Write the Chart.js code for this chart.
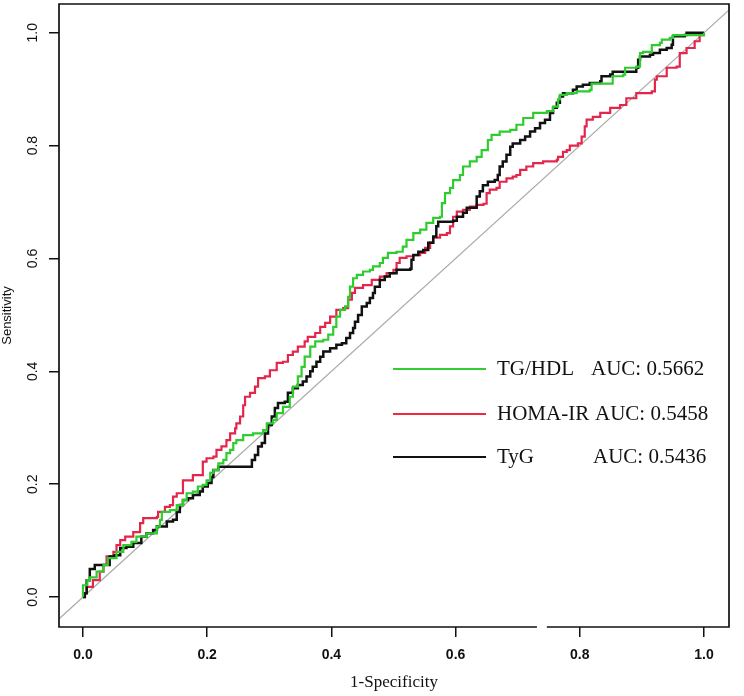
<!DOCTYPE html>
<html><head><meta charset="utf-8">
<script src="https://cdn.jsdelivr.net/npm/chart.js@4.4.0/dist/chart.umd.min.js"></script>
<style>html,body{margin:0;padding:0;background:#fff}canvas{display:block}</style>
</head><body>
<canvas id="c" width="744" height="696" style="width:744px;height:696px"></canvas>
<script>
// ---- data ----
const xTicks = [0, 0.2, 0.4, 0.6, 0.8, 1.0];
const xTickLabels = ['0.0', '0.2', '0.4', '0.6', '0.8', '1.0'];
const yTicks = [0, 0.2, 0.4, 0.6, 0.8, 1.0];
const yTickLabels = ['0.0', '0.2', '0.4', '0.6', '0.8', '1.0'];
const seriesNames = ['TG/HDL', 'HOMA-IR', 'TyG'];
const aucLabels = ['AUC: 0.5662', 'AUC: 0.5458', 'AUC: 0.5436'];
const xTitle = '1-Specificity';
const yTitle = 'Sensitivity';

const tgX = [0,0,0.007,0.011,0.022,0.033,0.04,0.054,0.065,0.078,0.086,0.102,0.119,0.124,0.127,0.14,0.151,0.161,0.167,0.177,0.185,0.193,0.199,0.205,0.21,0.218,0.226,0.231,0.237,0.242,0.247,0.258,0.274,0.29,0.296,0.306,0.312,0.322,0.333,0.338,0.346,0.352,0.357,0.366,0.374,0.387,0.395,0.403,0.408,0.414,0.422,0.427,0.43,0.435,0.441,0.451,0.462,0.467,0.478,0.483,0.491,0.505,0.515,0.521,0.532,0.543,0.553,0.564,0.575,0.578,0.583,0.591,0.596,0.607,0.612,0.623,0.634,0.642,0.652,0.658,0.671,0.688,0.698,0.709,0.725,0.747,0.757,0.765,0.768,0.779,0.795,0.816,0.819,0.851,0.853,0.87,0.873,0.891,0.897,0.902,0.916,0.929,0.932,0.945,0.95,0.985,1];
const tgY = [0,0.021,0.03,0.035,0.045,0.057,0.069,0.08,0.092,0.098,0.107,0.113,0.125,0.137,0.151,0.154,0.163,0.172,0.184,0.187,0.196,0.199,0.207,0.22,0.225,0.237,0.243,0.255,0.261,0.273,0.278,0.287,0.29,0.296,0.308,0.314,0.326,0.337,0.355,0.373,0.391,0.408,0.426,0.444,0.453,0.456,0.465,0.479,0.497,0.509,0.515,0.532,0.55,0.565,0.571,0.577,0.58,0.586,0.592,0.601,0.61,0.612,0.621,0.633,0.645,0.651,0.663,0.672,0.674,0.698,0.716,0.725,0.739,0.748,0.763,0.772,0.78,0.792,0.81,0.819,0.825,0.828,0.837,0.849,0.858,0.861,0.869,0.882,0.89,0.893,0.896,0.899,0.91,0.91,0.923,0.926,0.938,0.94,0.964,0.966,0.978,0.982,0.988,0.991,0.996,0.996,1];

const homaX = [0,0.003,0.006,0.016,0.027,0.033,0.038,0.049,0.054,0.06,0.068,0.081,0.092,0.097,0.119,0.121,0.132,0.14,0.145,0.151,0.161,0.169,0.177,0.188,0.193,0.199,0.21,0.215,0.223,0.231,0.237,0.245,0.247,0.253,0.258,0.261,0.269,0.277,0.282,0.293,0.301,0.312,0.322,0.33,0.338,0.346,0.357,0.362,0.374,0.382,0.39,0.398,0.408,0.419,0.427,0.433,0.438,0.451,0.465,0.478,0.489,0.5,0.505,0.51,0.521,0.532,0.543,0.551,0.559,0.564,0.575,0.586,0.591,0.596,0.602,0.612,0.623,0.634,0.645,0.65,0.655,0.666,0.671,0.682,0.692,0.698,0.704,0.714,0.725,0.741,0.763,0.765,0.773,0.779,0.784,0.797,0.803,0.808,0.811,0.821,0.833,0.849,0.865,0.875,0.891,0.916,0.921,0.924,0.94,0.956,0.961,0.972,0.982,0.985,0.993,1];
const homaY = [0,0.007,0.018,0.03,0.045,0.057,0.072,0.08,0.092,0.101,0.107,0.115,0.131,0.14,0.142,0.151,0.16,0.163,0.178,0.184,0.207,0.207,0.216,0.216,0.24,0.246,0.249,0.261,0.267,0.278,0.29,0.299,0.308,0.32,0.34,0.355,0.362,0.373,0.388,0.391,0.402,0.415,0.417,0.429,0.435,0.444,0.453,0.461,0.468,0.479,0.486,0.497,0.509,0.512,0.527,0.539,0.548,0.553,0.562,0.568,0.574,0.58,0.592,0.601,0.604,0.606,0.61,0.619,0.628,0.637,0.642,0.645,0.657,0.674,0.683,0.686,0.692,0.695,0.697,0.716,0.722,0.725,0.736,0.742,0.745,0.748,0.757,0.763,0.769,0.772,0.775,0.78,0.789,0.792,0.8,0.804,0.816,0.834,0.846,0.851,0.858,0.867,0.872,0.884,0.893,0.896,0.917,0.923,0.938,0.94,0.964,0.973,0.973,0.985,0.996,1];

const tygX = [0,0.003,0.006,0.011,0.019,0.027,0.043,0.051,0.06,0.07,0.081,0.089,0.094,0.102,0.113,0.119,0.129,0.135,0.145,0.151,0.156,0.161,0.169,0.177,0.188,0.193,0.201,0.207,0.21,0.218,0.269,0.272,0.277,0.282,0.288,0.293,0.298,0.304,0.309,0.314,0.325,0.33,0.338,0.346,0.354,0.36,0.366,0.37,0.376,0.382,0.387,0.398,0.408,0.417,0.424,0.43,0.435,0.438,0.443,0.449,0.457,0.462,0.467,0.47,0.478,0.486,0.494,0.505,0.527,0.529,0.532,0.54,0.548,0.556,0.564,0.569,0.572,0.596,0.602,0.612,0.618,0.628,0.634,0.639,0.644,0.652,0.663,0.668,0.671,0.676,0.682,0.688,0.692,0.704,0.712,0.72,0.728,0.736,0.744,0.752,0.757,0.763,0.768,0.773,0.789,0.795,0.805,0.816,0.833,0.835,0.849,0.853,0.867,0.891,0.894,0.897,0.913,0.918,0.929,0.94,0.948,0.95,0.969,0.972,1];
const tygY = [0,0.007,0.03,0.05,0.057,0.057,0.072,0.074,0.087,0.089,0.096,0.096,0.107,0.113,0.119,0.125,0.125,0.134,0.137,0.151,0.163,0.172,0.175,0.181,0.187,0.196,0.202,0.213,0.225,0.231,0.231,0.243,0.252,0.267,0.273,0.29,0.305,0.32,0.335,0.344,0.346,0.362,0.37,0.376,0.382,0.391,0.4,0.408,0.417,0.426,0.435,0.441,0.447,0.45,0.459,0.468,0.477,0.488,0.5,0.515,0.521,0.53,0.539,0.55,0.562,0.568,0.574,0.58,0.582,0.598,0.606,0.612,0.615,0.628,0.639,0.657,0.665,0.667,0.674,0.681,0.69,0.69,0.71,0.719,0.73,0.736,0.739,0.748,0.763,0.772,0.784,0.798,0.804,0.81,0.816,0.825,0.831,0.84,0.846,0.858,0.867,0.876,0.887,0.893,0.899,0.905,0.908,0.911,0.914,0.923,0.926,0.931,0.931,0.938,0.952,0.958,0.961,0.964,0.97,0.973,0.979,0.994,0.996,1,1];

const refX = [-0.1, 1.1];
const refY = [-0.1, 1.1];

// ---- chart ----
const zip = (xs, ys) => xs.map((x, i) => ({x: x, y: ys[i]}));
const colors = ['#2fcc2f', '#e3264b', '#111111'];
const legendColors = ['#33cc33', '#f02a3c', '#111111'];

const framePlugin = {
  id: 'frame',
  afterDraw(chart) {
    const ctx = chart.ctx, a = chart.chartArea, xs = chart.scales.x;
    const g0 = xs.getPixelForValue(0.731), g1 = xs.getPixelForValue(0.747);
    ctx.save();
    ctx.strokeStyle = '#111';
    ctx.lineWidth = 1.7;
    ctx.beginPath();
    ctx.moveTo(g0, a.bottom);
    ctx.lineTo(a.left, a.bottom);
    ctx.lineTo(a.left, a.top);
    ctx.lineTo(a.right, a.top);
    ctx.lineTo(a.right, a.bottom);
    ctx.lineTo(g1, a.bottom);
    ctx.stroke();
    // legend
    const rowsY = [369, 414, 457];
    const aucX = [591, 595, 593];
    ctx.font = '21px "Liberation Serif", "Times New Roman", serif';
    ctx.textBaseline = 'middle';
    ctx.textAlign = 'left';
    for (let i = 0; i < seriesNames.length; i++) {
      ctx.strokeStyle = legendColors[i];
      ctx.lineWidth = 2;
      ctx.beginPath();
      ctx.moveTo(393, rowsY[i]);
      ctx.lineTo(486, rowsY[i]);
      ctx.stroke();
      ctx.fillStyle = '#111';
      ctx.fillText(seriesNames[i], 497, rowsY[i]);
      ctx.fillText(aucLabels[i], aucX[i], rowsY[i]);
    }
    ctx.restore();
  }
};

new Chart(document.getElementById('c'), {
  type: 'line',
  data: {
    datasets: [
      {label: 'ref', data: zip(refX, refY), borderColor: '#a9a9a9', borderWidth: 1.2, pointRadius: 0, order: 10},
      {label: seriesNames[1], data: zip(homaX, homaY), borderColor: colors[1], borderWidth: 2.2, pointRadius: 0, stepped: true, order: 3},
      {label: seriesNames[2], data: zip(tygX, tygY), borderColor: colors[2], borderWidth: 2.5, pointRadius: 0, stepped: true, order: 2},
      {label: seriesNames[0], data: zip(tgX, tgY), borderColor: colors[0], borderWidth: 2.2, pointRadius: 0, stepped: true, order: 1}
    ]
  },
  options: {
    responsive: false,
    animation: false,
    layout: {padding: {top: 4, right: 15, left: 0, bottom: 0}},
    plugins: {legend: {display: false}, tooltip: {enabled: false}},
    scales: {
      x: {
        type: 'linear', min: -0.0386, max: 1.0403,
        afterBuildTicks: s => { s.ticks = xTicks.map(v => ({value: v})); },
        afterFit: s => { s.height = 69; s.paddingLeft = 0; s.paddingRight = 0; },
        border: {display: false},
        grid: {display: true, drawOnChartArea: false, drawTicks: true, tickLength: 10, color: '#111', lineWidth: 1.5},
        ticks: {autoSkip: false, maxRotation: 0, padding: 10, color: '#111',
          font: {family: '"Liberation Sans", Arial, sans-serif', size: 14, weight: 'bold'},
          callback: (v, i) => xTickLabels[i]},
        title: {display: true, text: xTitle, color: '#111', padding: {top: 0, bottom: 3},
          font: {family: '"Liberation Serif", "Times New Roman", serif', size: 17}}
      },
      y: {
        type: 'linear', min: -0.053, max: 1.051,
        afterBuildTicks: s => { s.ticks = yTicks.map(v => ({value: v})); },
        afterFit: s => { s.width = 59; s.paddingTop = 0; s.paddingBottom = 0; },
        border: {display: false},
        grid: {display: true, drawOnChartArea: false, drawTicks: true, tickLength: 10, color: '#111', lineWidth: 1.5},
        ticks: {autoSkip: false, minRotation: 90, maxRotation: 90, crossAlign: 'center', padding: 6, color: '#111',
          font: {family: '"Liberation Sans", Arial, sans-serif', size: 14},
          callback: (v, i) => yTickLabels[i]},
        title: {display: true, text: yTitle, color: '#111', padding: {top: 0, bottom: 0},
          font: {family: '"Liberation Sans", Arial, sans-serif', size: 13}}
      }
    }
  },
  plugins: [framePlugin]
});
</script>
</body></html>
